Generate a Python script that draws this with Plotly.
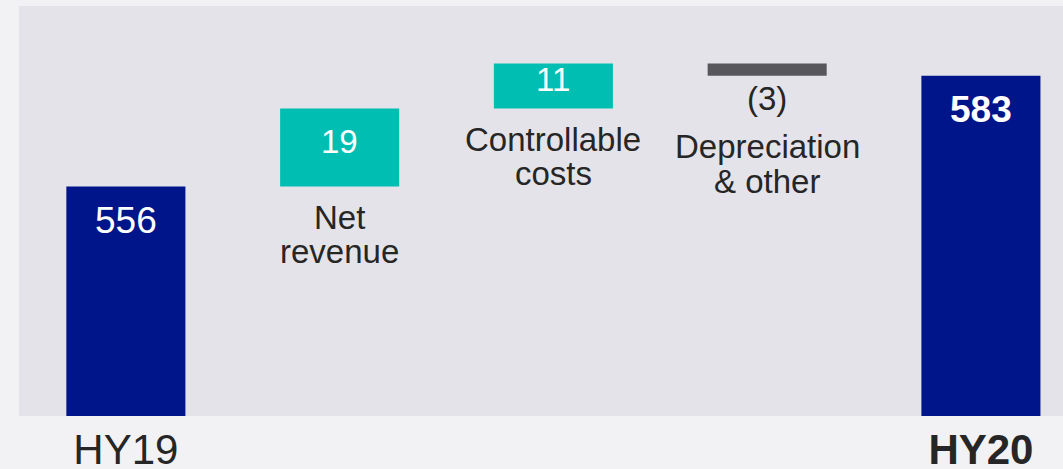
import plotly.graph_objects as go

# ---- data ----
categories = ["HY19", "Net revenue", "Controllable costs", "Depreciation & other", "HY20"]
label_lines = [None, ["Net", "revenue"], ["Controllable", "costs"], ["Depreciation", "& other"], None]
values = [556, 19, 11, -3, 583]
measures = ["absolute", "relative", "relative", "relative", "total"]
value_text = ["556", "19", "11", "(3)", "583"]
tick_vals = ["HY19", "HY20"]
tick_labels = ["HY19", "<b>HY20</b>"]

NAVY = "#00158a"
TEAL = "#00bfb2"
GREY = "#58575c"
TEXT = "#262626"
FONT = "Liberation Sans, Arial, sans-serif"

fig = go.Figure(go.Waterfall(
    x=categories, y=values, measure=measures, width=0.557,
    increasing=dict(marker=dict(color=TEAL)),
    decreasing=dict(marker=dict(color=GREY)),
    totals=dict(marker=dict(color=NAVY)),
    connector=dict(visible=False),
    showlegend=False, hoverinfo="skip",
))

annotations = []
running = 0
for i, (cat, v, m, t) in enumerate(zip(categories, values, measures, value_text)):
    if m in ("absolute", "total"):
        top = v if m == "absolute" else running
        running = top
        annotations.append(dict(x=cat, y=top, text=("<b>%s</b>" % t) if m == "total" else t,
                                showarrow=False, yanchor="middle", yshift=-34,
                                font=dict(size=37, color="white", family=FONT)))
    else:
        start, end = running, running + v
        running = end
        lo, hi = min(start, end), max(start, end)
        if v >= 0:
            annotations.append(dict(x=cat, y=(lo + hi) / 2, text=t, showarrow=False,
                                    yanchor="middle", yshift=6,
                                    font=dict(size=33, color="white", family=FONT)))
            shifts = [-31, -65]
        else:
            annotations.append(dict(x=cat, y=lo, text=t, showarrow=False,
                                    yanchor="middle", yshift=-23,
                                    font=dict(size=33, color=TEXT, family=FONT)))
            shifts = [-71, -106]
        for line, s in zip(label_lines[i], shifts):
            annotations.append(dict(x=cat, y=lo, text=line, showarrow=False,
                                    yanchor="middle", yshift=s,
                                    font=dict(size=33, color=TEXT, family=FONT)))

fig.update_layout(
    width=1063, height=469,
    margin=dict(l=19, r=0, t=6, b=53),
    paper_bgcolor="#f2f2f4", plot_bgcolor="#e4e3e9",
    font=dict(family=FONT, color=TEXT),
    annotations=annotations,
    xaxis=dict(range=[-0.5, 4.384], tickvals=tick_vals, ticktext=tick_labels,
               tickfont=dict(size=42, color=TEXT, family=FONT), showgrid=False,
               zeroline=False, showline=False, ticks="", ticklabelstandoff=5,
               automargin=False),
    yaxis=dict(range=[500, 600], visible=False, showgrid=False, zeroline=False,
               automargin=False),
)

fig.write_html("out.html", config={"displayModeBar": False},
               post_script="document.body.style.margin='0px';document.body.style.overflow='hidden';")
